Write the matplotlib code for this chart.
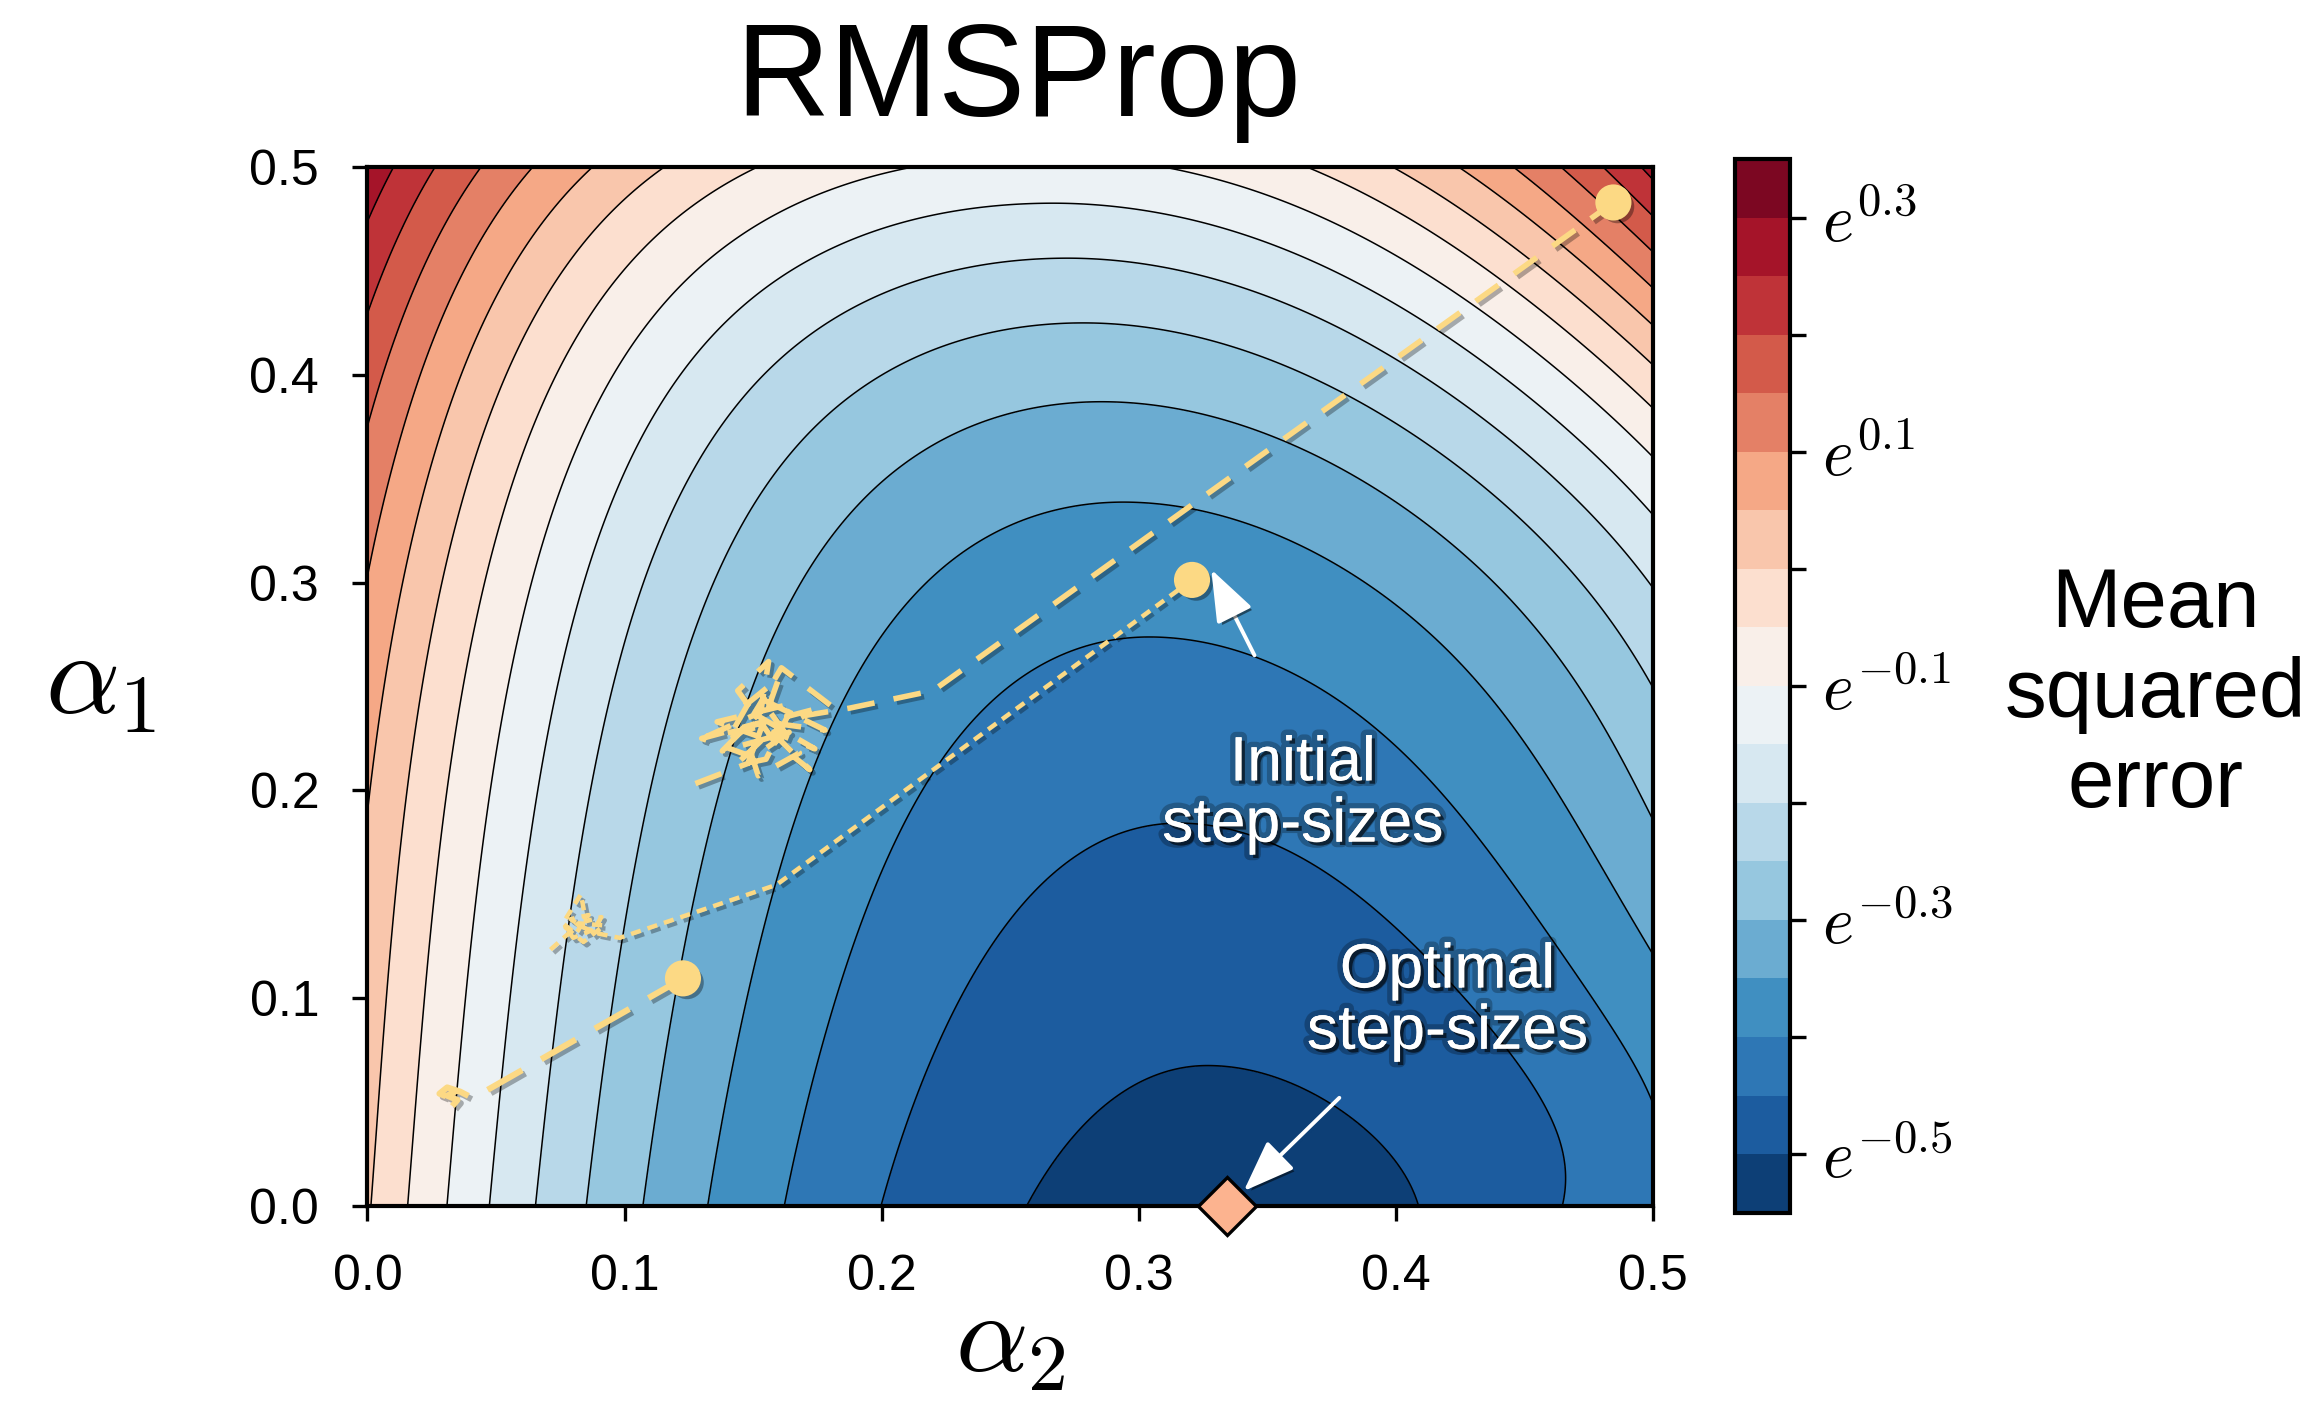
import numpy as np
import matplotlib
matplotlib.use('Agg')
import matplotlib.pyplot as plt
import matplotlib.patheffects as pe

plt.rcParams['font.family'] = ['Liberation Sans', 'DejaVu Sans']
plt.rcParams['mathtext.fontset'] = 'cm'

# surface: valley centre, valley floor and edge profiles (log MSE)
centre_a1 = [0.0, 0.1, 0.2, 0.3, 0.4, 0.5]
centre_a2 = [0.331, 0.324, 0.314, 0.300, 0.283, 0.263]
floor_a1 = [0.0, 0.07, 0.18, 0.28, 0.335, 0.385, 0.43, 0.455, 0.48, 0.5]
floor_val = [-0.523, -0.50, -0.45, -0.40, -0.35, -0.30, -0.25, -0.20, -0.15, -0.116]
left_a1 = [0.0, 0.194, 0.299, 0.375, 0.432, 0.474, 0.5]
left_val = [0.005, 0.05, 0.10, 0.15, 0.20, 0.25, 0.285]
right_a1 = [0.0, 0.118, 0.194, 0.247, 0.294, 0.332, 0.361, 0.383, 0.407, 0.427, 0.441, 0.457, 0.474, 0.496]
right_val = [-0.40, -0.35, -0.30, -0.25, -0.20, -0.15, -0.10, -0.05, 0.0, 0.05, 0.10, 0.15, 0.20, 0.25]
levels = np.arange(-0.55, 0.351, 0.05)

# trajectories (alpha2, alpha1)
traj1_a2 = [0.4846, 0.22, 0.1876, 0.170, 0.158, 0.174, 0.146, 0.160, 0.152, 0.136, 0.166, 0.155, 0.143, 0.160,
            0.178, 0.150, 0.140, 0.157, 0.168, 0.152, 0.146, 0.180, 0.161, 0.150, 0.132, 0.155, 0.172, 0.158,
            0.144, 0.156, 0.153, 0.138, 0.164, 0.150, 0.130, 0.154, 0.148, 0.127]
traj1_a1 = [0.483, 0.248, 0.2396, 0.236, 0.228, 0.220, 0.240, 0.254, 0.226, 0.233, 0.242, 0.215, 0.212, 0.232,
            0.229, 0.246, 0.224, 0.237, 0.218, 0.207, 0.230, 0.241, 0.259, 0.236, 0.226, 0.231, 0.210, 0.224,
            0.248, 0.262, 0.238, 0.219, 0.228, 0.216, 0.225, 0.233, 0.213, 0.203]
traj2_a2 = [0.3207, 0.159, 0.0981, 0.090, 0.084, 0.079, 0.086, 0.081, 0.076, 0.083, 0.085, 0.091, 0.088,
            0.080, 0.077, 0.084, 0.092, 0.082, 0.079, 0.0696]
traj2_a1 = [0.3013, 0.1545, 0.129, 0.131, 0.134, 0.138, 0.140, 0.131, 0.136, 0.150, 0.137, 0.139, 0.133,
            0.129, 0.134, 0.127, 0.135, 0.136, 0.132, 0.1216]
traj3_a2 = [0.1227, 0.041, 0.036, 0.031, 0.028, 0.032, 0.030, 0.034, 0.031, 0.035, 0.033]
traj3_a1 = [0.1095, 0.0518, 0.055, 0.057, 0.054, 0.052, 0.056, 0.055, 0.053, 0.051, 0.048]
start_a2 = [0.4846, 0.3207, 0.1227]
start_a1 = [0.483, 0.3013, 0.1095]
best_a2, best_a1 = 0.3345, 0.0

yellow = '#fcd984'

a2 = np.linspace(0, 0.5, 400)
a1 = np.linspace(0, 0.5, 400)
A2, A1 = np.meshgrid(a2, a1)


def profile(kx, ky, deg):
    return np.polyval(np.polyfit(kx, ky, deg), A1)


c = profile(centre_a1, centre_a2, 2)
g = profile(floor_a1, floor_val, 4)
fl = profile(left_a1, left_val, 3)
fr = profile(right_a1, right_val, 5)
u = np.where(A2 < c, (c - A2) / c, (A2 - c) / (0.5 - c))
s = 0.86 * u ** 2 + 0.14 * u ** 4
Z = g + np.where(A2 < c, fl - g, fr - g) * s

fig = plt.figure(figsize=(11.6, 7.005), dpi=200)
ax = fig.add_axes([0.1584, 0.1393, 0.5541, 0.7414])
cax = fig.add_axes([0.748, 0.1345, 0.0235, 0.752])

cf = ax.contourf(A2, A1, Z, levels=levels, cmap='RdBu_r')
ax.contour(A2, A1, Z, levels=levels, colors='k', linewidths=0.55, linestyles='solid')

shadow = [pe.SimpleLineShadow(offset=(1.2, -1.2), shadow_color='k', alpha=0.3), pe.Normal()]
ax.plot(traj1_a2, traj1_a1, color=yellow, lw=2.0, dashes=(5, 3.5), path_effects=shadow, zorder=4)
ax.plot(traj2_a2, traj2_a1, color=yellow, lw=1.6, dashes=(2.3, 1.6), path_effects=shadow, zorder=4)
ax.plot(traj3_a2, traj3_a1, color=yellow, lw=2.2, dashes=(6.5, 3.6), path_effects=shadow, zorder=4)
ax.plot(start_a2, start_a1, 'o', ms=12, color=yellow, zorder=5,
        path_effects=[pe.SimplePatchShadow(offset=(1.5, -1.5), shadow_rgbFace='k', alpha=0.35), pe.Normal()])
ax.plot(best_a2, best_a1, 'D', ms=15, mfc='#fcb38f', mec='k', mew=1.2, clip_on=False, zorder=6)

txt_fx = [pe.withStroke(linewidth=4, foreground=(0, 0, 0, 0.25)),
          pe.withSimplePatchShadow(offset=(1.2, -1.2), shadow_rgbFace='k', alpha=0.6)]
arrow_fx = [pe.SimplePatchShadow(offset=(1.2, -1.2), shadow_rgbFace='k', alpha=0.5), pe.Normal()]
ax.text(0.3638, 0.198, 'Initial\nstep-sizes', color='white', fontsize=22.5, ha='center', va='center',
        linespacing=1.05, path_effects=txt_fx, zorder=7)
ax.text(0.4201, 0.0983, 'Optimal\nstep-sizes', color='white', fontsize=22.5, ha='center', va='center',
        linespacing=1.05, path_effects=txt_fx, zorder=7)
ax.annotate('', xy=(0.3282, 0.3063), xytext=(0.345, 0.265),
            arrowprops=dict(arrowstyle='-|>,head_length=0.8,head_width=0.3', color='white', lw=1.4,
                            mutation_scale=20, shrinkA=0, shrinkB=0, path_effects=arrow_fx), zorder=7)
ax.annotate('', xy=(0.3408, 0.0071), xytext=(0.378, 0.052),
            arrowprops=dict(arrowstyle='-|>,head_length=0.8,head_width=0.3', color='white', lw=1.4,
                            mutation_scale=20, shrinkA=0, shrinkB=0, path_effects=arrow_fx), zorder=7)

ax.set_xlim(0, 0.5)
ax.set_ylim(0, 0.5)
ax.set_xticks(np.arange(0, 0.51, 0.1))
ax.set_yticks(np.arange(0, 0.51, 0.1))
ax.tick_params(direction='out', length=5.4, width=1.2, labelsize=18, pad=12)
for sp in ax.spines.values():
    sp.set_linewidth(1.5)

cb = fig.colorbar(cf, cax=cax)
cb.set_ticks(np.arange(-0.5, 0.31, 0.1))
cb.set_ticklabels([r'$e^{-0.5}$', '', r'$e^{-0.3}$', '', r'$e^{-0.1}$', '', r'$e^{0.1}$', '', r'$e^{0.3}$'])
cb.ax.tick_params(direction='out', length=5.7, width=1.2, labelsize=24, pad=6)
cb.outline.set_linewidth(1.5)

fig.text(0.4388, 0.942, 'RMSProp', fontsize=47, ha='center', va='center')
fig.text(0.0431, 0.5125, r'$\alpha_1$', fontsize=42, ha='center', va='center')
fig.text(0.4353, 0.004, r'$\alpha_2$', fontsize=41, ha='center', va='bottom')
fig.text(0.929, 0.504, 'Mean\nsquared\nerror', fontsize=30, ha='center', va='center', linespacing=1.2)

fig.savefig('out.png', dpi=200)
